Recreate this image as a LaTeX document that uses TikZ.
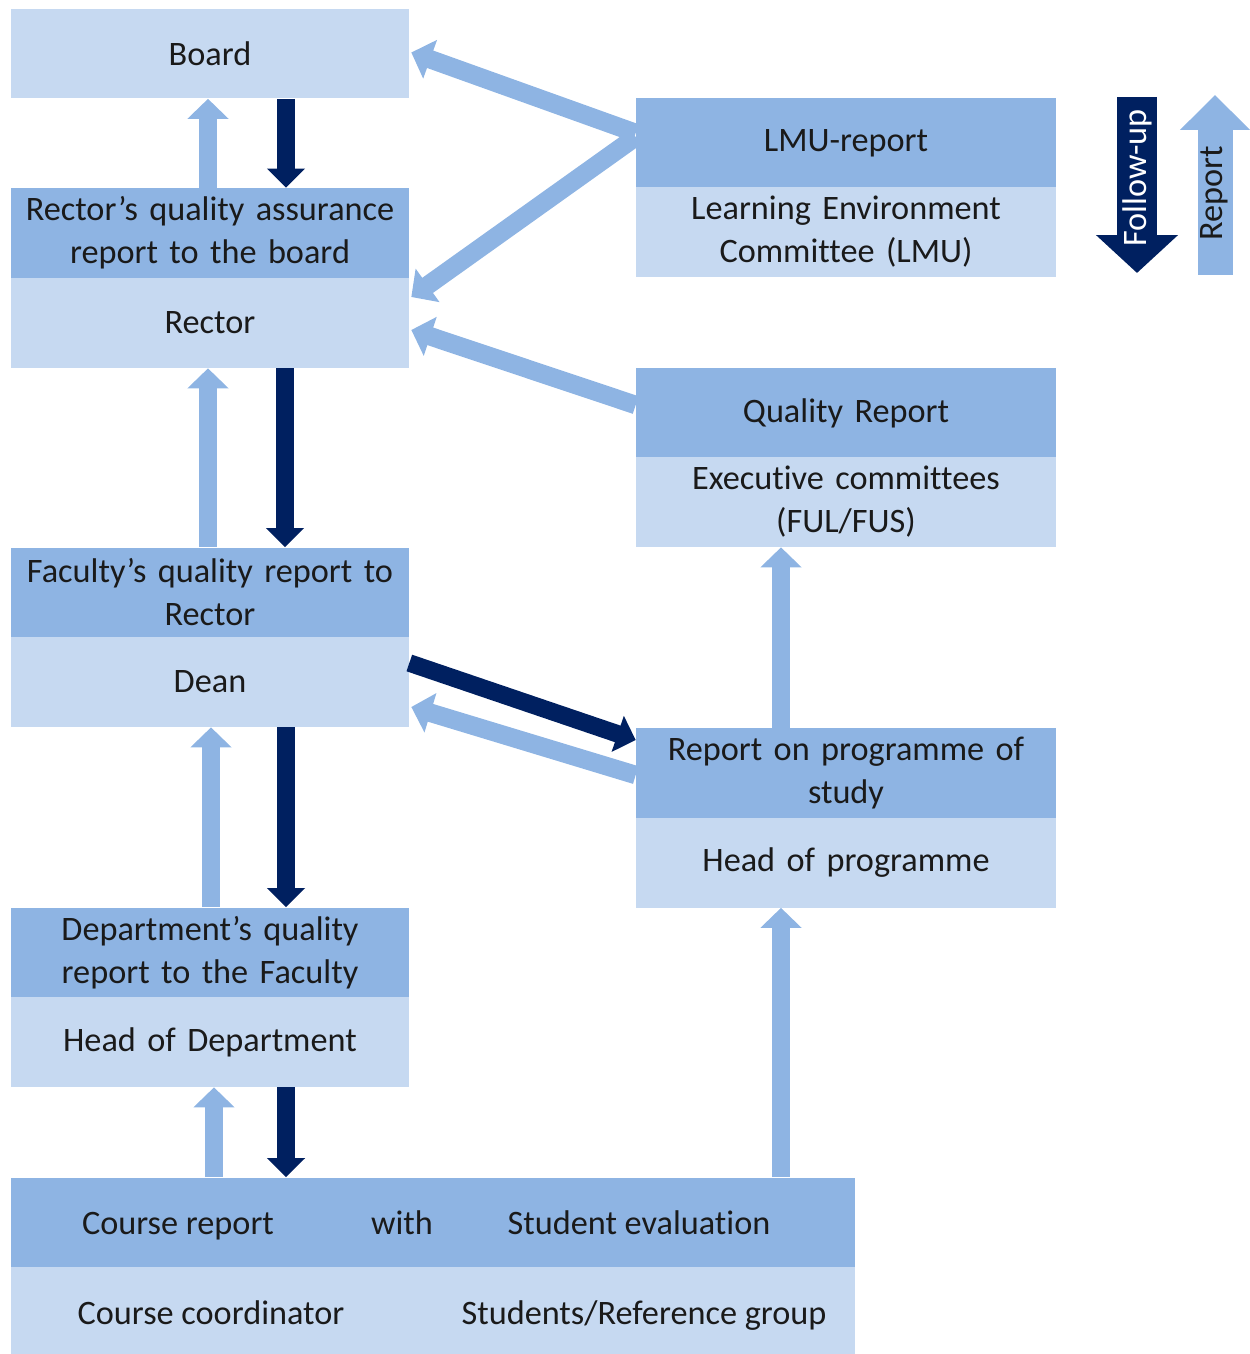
\documentclass[tikz,border=0pt]{standalone}
\usepackage{fontspec}
\setmainfont{Carlito}[Ligatures={TeX,NoCommon}]
\usetikzlibrary{positioning, arrows.meta, calc}
\definecolor{lightbox}{HTML}{C6D9F1}
\definecolor{darkband}{HTML}{8EB4E3}
\definecolor{navyarr}{HTML}{002060}
\definecolor{boxtext}{HTML}{1A1A1A}
\tikzset{
  lbox/.style={fill=lightbox, inner sep=0pt, minimum height=1.8cm, align=center},
  dbox/.style={fill=darkband, inner sep=0pt, minimum height=1.8cm, align=center},
  leftcol/.style={minimum width=7.96cm, text width=7.9cm},
  rightcol/.style={minimum width=8.4cm, text width=8.3cm},
  rowtext/.style={text height=13pt, text depth=4pt},
  rep/.style={draw=darkband, line width=0.37cm, -{Triangle[width=0.8cm, length=0.4cm]}},
  fup/.style={draw=navyarr, line width=0.35cm, -{Triangle[width=0.74cm, length=0.38cm]}},
}

\begin{document}
\begin{tikzpicture}[x=0.02cm, y=-0.02cm, every node/.style={font=\fontsize{19.5}{24.5}\selectfont, text=boxtext}]
    \useasboundingbox (0,0) rectangle (1249,1354);

    % Left column
    \node[lbox, leftcol] (board) at (210,53.5) {Board};
    \node[dbox, leftcol] (rqa) at (210,233) {Rector’s quality assurance\\report to the board};
    \node[lbox, leftcol] (rector) at (210,323) {Rector};
    \node[dbox, leftcol] (fqr) at (210,592.5) {Faculty’s quality report to\\Rector};
    \node[lbox, leftcol] (dean) at (210,682) {Dean};
    \node[dbox, leftcol] (dqr) at (210,952.5) {Department’s quality\\report to the Faculty};
    \node[lbox, leftcol] (hod) at (210,1042) {Head of Department};

    % Right column
    \node[dbox, rightcol] (lmur) at (846,143) {LMU-report};
    \node[lbox, rightcol] (lmu) at (846,232) {Learning Environment\\Committee (LMU)};
    \node[dbox, rightcol] (qrep) at (846,413) {Quality Report};
    \node[lbox, rightcol] (exec) at (846,502) {Executive committees\\(FUL/FUS)};
    \node[dbox, rightcol] (rps) at (846,773) {Report on programme of\\study};
    \node[lbox, rightcol] (hop) at (846,862.5) {Head of programme};

    % Bottom row
    \node[dbox, minimum width=16.88cm] (course) at (433,1222.5) {};
    \node[lbox, minimum width=16.88cm, minimum height=1.76cm] (coord) at (433,1310.5) {};
    \node[rowtext] (crep) at (178,1227) {Course report};
    \node[rowtext] (with) at (402,1227) {with};
    \node[rowtext] (steval) at (639,1227) {Student evaluation};
    \node[rowtext] (ccoord) at (211,1317) {Course coordinator};
    \node[rowtext] (stref) at (644,1317) {Students/Reference group};

    % Vertical arrows, left column
    \draw[rep] ($(rqa.north)+(-2,0)$) -- ($(board.south)+(-2,0)$);
    \draw[fup] ($(board.south)+(76,0)$) -- ($(rqa.north)+(76,0)$);
    \draw[rep] ($(fqr.north)+(-2,0)$) -- ($(rector.south)+(-2,0)$);
    \draw[fup] ($(rector.south)+(75,0)$) -- ($(fqr.north)+(75,0)$);
    \draw[rep] ($(dqr.north)+(1,0)$) -- ($(dean.south)+(1,0)$);
    \draw[fup] ($(dean.south)+(76,0)$) -- ($(dqr.north)+(76,0)$);
    \draw[rep] ($(course.north -| hod.south)+(4,0)$) -- ($(hod.south)+(4,0)$);
    \draw[fup] ($(hod.south)+(76,0)$) -- ($(course.north -| hod.south)+(76,0)$);

    % Vertical arrows, right column
    \draw[rep] ($(course.north -| hop.south)+(-65,0)$) -- ($(hop.south)+(-65,0)$);
    \draw[rep] ($(rps.north)+(-65,0)$) -- ($(exec.south)+(-65,0)$);

    % Diagonal arrows
    \draw[rep] ($(lmur.west)+(0,-10)$) -- ($(board.east)+(2,-1)$);
    \draw[rep] ($(lmur.west)+(0,-6)$) -- ($(rector.east)+(2,-26)$);
    \draw[rep] ($(qrep.west)+(0,-8)$) -- ($(rector.east)+(2,7)$);
    \draw[fup] ($(dean.east)+(0,-19)$) -- ($(rps.west)+(0,-33)$);
    \draw[rep] ($(rps.west)+(0,2)$) -- ($(dean.east)+(2,25)$);

    % Legend
    \coordinate (futop) at (1137,97);
    \coordinate (fubot) at (1137,273);
    \draw[navyarr, line width=0.8cm, -{Triangle[width=1.6cm, length=0.76cm]}] (futop) -- (fubot);
    \node[rotate=90, text=white] (fulabel) at (1137,178) {Follow-up};
    \coordinate (rpbot) at (1215,275);
    \coordinate (rptop) at (1215,95);
    \draw[darkband, line width=0.7cm, -{Triangle[width=1.36cm, length=0.7cm]}] (rpbot) -- (rptop);
    \node[rotate=90] (rplabel) at (1214,193) {Report};
\end{tikzpicture}
\end{document}
